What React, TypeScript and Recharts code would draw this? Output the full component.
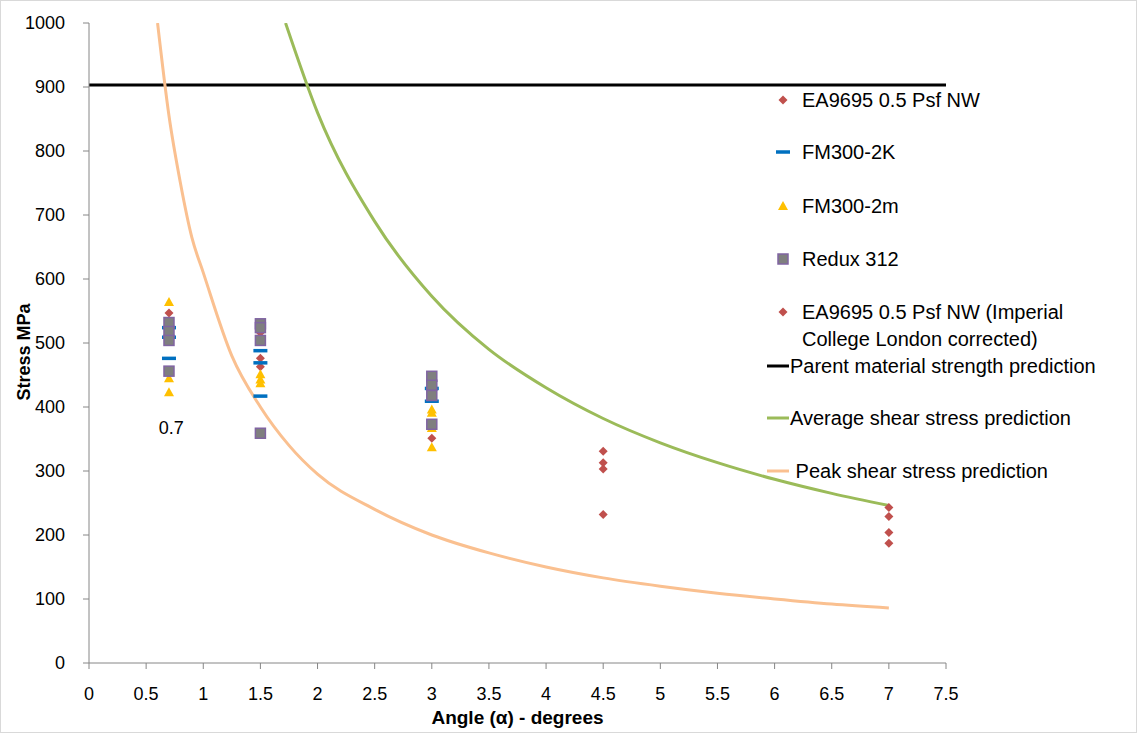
import {
  ComposedChart,
  Line,
  Scatter,
  XAxis,
  YAxis,
  ReferenceDot,
} from 'recharts';

const xTicks = [0, 0.5, 1, 1.5, 2, 2.5, 3, 3.5, 4, 4.5, 5, 5.5, 6, 6.5, 7, 7.5];
const yTicks = [0, 100, 200, 300, 400, 500, 600, 700, 800, 900, 1000];

// scatter series
const ea9695 = [
  { x: 0.7, y: 547 },
  { x: 0.7, y: 530 },
  { x: 1.5, y: 516 },
  { x: 1.5, y: 476 },
  { x: 1.5, y: 463 },
  { x: 3, y: 351 },
];
const fm300_2k = [
  { x: 0.7, y: 524 },
  { x: 0.7, y: 509 },
  { x: 0.7, y: 476 },
  { x: 1.5, y: 488 },
  { x: 1.5, y: 469 },
  { x: 1.5, y: 417 },
  { x: 3, y: 429 },
  { x: 3, y: 409 },
];
const fm300_2m = [
  { x: 0.7, y: 564 },
  { x: 0.7, y: 445 },
  { x: 0.7, y: 423 },
  { x: 1.5, y: 451 },
  { x: 1.5, y: 443 },
  { x: 1.5, y: 437 },
  { x: 3, y: 396 },
  { x: 3, y: 391 },
  { x: 3, y: 367 },
  { x: 3, y: 337 },
];
const redux312 = [
  { x: 0.7, y: 532 },
  { x: 0.7, y: 518 },
  { x: 0.7, y: 504 },
  { x: 0.7, y: 456 },
  { x: 1.5, y: 530 },
  { x: 1.5, y: 524 },
  { x: 1.5, y: 504 },
  { x: 1.5, y: 359 },
  { x: 3, y: 448 },
  { x: 3, y: 434 },
  { x: 3, y: 418 },
  { x: 3, y: 373 },
];
const ea9695Imperial = [
  { x: 4.5, y: 331 },
  { x: 4.5, y: 313 },
  { x: 4.5, y: 303 },
  { x: 4.5, y: 232 },
  { x: 7, y: 243 },
  { x: 7, y: 229 },
  { x: 7, y: 204 },
  { x: 7, y: 187 },
];

// prediction lines
const parentStrength = [
  { x: 0, y: 903 },
  { x: 7.5, y: 903 },
];
const avgShear = [
  { x: 1.72, y: 1000 },
  { x: 2, y: 860 },
  { x: 2.5, y: 690 },
  { x: 3, y: 573 },
  { x: 3.5, y: 490 },
  { x: 4, y: 430 },
  { x: 4.5, y: 382 },
  { x: 5, y: 344 },
  { x: 5.5, y: 313 },
  { x: 6, y: 287 },
  { x: 6.5, y: 265 },
  { x: 7, y: 246 },
];
const peakShear = [
  { x: 0.6, y: 1000 },
  { x: 0.7, y: 855 },
  { x: 0.8, y: 750 },
  { x: 0.9, y: 665 },
  { x: 1, y: 610 },
  { x: 1.25, y: 480 },
  { x: 1.5, y: 400 },
  { x: 1.75, y: 340 },
  { x: 2, y: 295 },
  { x: 2.5, y: 240 },
  { x: 3, y: 200 },
  { x: 3.5, y: 172 },
  { x: 4, y: 150 },
  { x: 4.5, y: 133 },
  { x: 5, y: 120 },
  { x: 5.5, y: 109 },
  { x: 6, y: 100 },
  { x: 6.5, y: 92 },
  { x: 7, y: 86 },
];

const FONT = '"Liberation Sans", Arial, sans-serif';
const RED = '#C0504D';
const BLUE = '#0070C0';
const YELLOW = '#FFC000';
const GREY = '#7F7F7F';
const PURPLE = '#8064A2';

const Diamond = ({ cx, cy }: any) => (
  <polygon
    points={`${cx},${cy - 4.5} ${cx + 4.5},${cy} ${cx},${cy + 4.5} ${cx - 4.5},${cy}`}
    fill={RED}
  />
);
const Dash = ({ cx, cy }: any) => (
  <rect x={cx - 7} y={cy - 1.75} width={14} height={3.5} fill={BLUE} />
);
const Triangle = ({ cx, cy }: any) => (
  <polygon
    points={`${cx},${cy - 5} ${cx + 5},${cy + 4} ${cx - 5},${cy + 4}`}
    fill={YELLOW}
  />
);
const Square = ({ cx, cy }: any) => (
  <rect
    x={cx - 5}
    y={cy - 5}
    width={10}
    height={10}
    fill={GREY}
    stroke={PURPLE}
    strokeWidth={1.5}
  />
);

const legendItems = [
  { label: ['EA9695 0.5 Psf NW'], kind: 'diamond', top: 99 },
  { label: ['FM300-2K'], kind: 'dash', top: 151 },
  { label: ['FM300-2m'], kind: 'triangle', top: 205 },
  { label: ['Redux 312'], kind: 'square', top: 258 },
  {
    label: ['EA9695 0.5 Psf NW (Imperial', 'College London corrected)'],
    kind: 'diamond',
    top: 311,
  },
  { label: ['Parent material strength prediction'], kind: 'line', color: '#000000', top: 365 },
  { label: ['Average shear stress prediction'], kind: 'line', color: '#9BBB59', top: 417 },
  { label: [' Peak shear stress prediction'], kind: 'line', color: '#FAC090', top: 470 },
];

function LegendMarker({ kind, color }: { kind: string; color?: string }) {
  return (
    <svg width={34} height={14} style={{ position: 'absolute', left: 0, top: -7 }}>
      {kind === 'diamond' && <Diamond cx={16} cy={7} />}
      {kind === 'dash' && <Dash cx={16} cy={7} />}
      {kind === 'triangle' && <Triangle cx={16} cy={7} />}
      {kind === 'square' && <Square cx={16} cy={7} />}
      {kind === 'line' && (
        <line x1={0} y1={7} x2={22} y2={7} stroke={color} strokeWidth={3} />
      )}
    </svg>
  );
}

function ChartLegend() {
  return (
    <div
      style={{
        position: 'absolute',
        left: 766,
        top: 0,
        width: 368,
        height: 520,
        fontFamily: FONT,
      }}
    >
      {legendItems.map((item) => (
        <div key={item.label.join(' ')} style={{ position: 'absolute', left: 0, top: item.top }}>
          <LegendMarker kind={item.kind} color={item.color} />
          {item.label.map((line, i) => (
            <div
              key={line}
              style={{
                position: 'absolute',
                left: item.kind === 'line' ? 23 : 35,
                top: i * 27 - 12,
                whiteSpace: 'pre',
                fontSize: 20,
                lineHeight: '24px',
                color: '#000',
              }}
            >
              {line}
            </div>
          ))}
        </div>
      ))}
    </div>
  );
}

export default function App() {
  return (
    <div
      style={{
        position: 'absolute',
        left: 0,
        top: 0,
        width: 1135,
        height: 731,
        border: '1px solid #d9d9d9',
        background: '#fff',
      }}
    >
      <ComposedChart
        width={1135}
        height={731}
        margin={{ top: 22, right: 190, left: 28, bottom: 10 }}
        style={{ fontFamily: FONT }}
      >
        <XAxis
          type="number"
          dataKey="x"
          domain={[0, 7.5]}
          ticks={xTicks}
          interval={0}
          allowDataOverflow
          stroke="#868686"
          tickSize={6}
          tickMargin={18}
          height={59}
          tick={{ fill: '#000', fontSize: 18 }}
          label={{
            value: 'Angle (α)  - degrees',
            position: 'insideBottom',
            offset: -2,
            style: { fontWeight: 'bold', fontSize: 19, fill: '#000', whiteSpace: 'pre' },
          }}
        />
        <YAxis
          type="number"
          dataKey="y"
          domain={[0, 1000]}
          ticks={yTicks}
          interval={0}
          allowDataOverflow
          stroke="#868686"
          tickSize={6}
          tickMargin={18}
          width={60}
          tick={{ fill: '#000', fontSize: 18 }}
          label={{
            value: 'Stress MPa',
            angle: -90,
            position: 'insideLeft',
            offset: -5,
            dy: 9,
            style: { fontWeight: 'bold', fontSize: 18, fill: '#000', textAnchor: 'middle' },
          }}
        />
        <Line
          data={parentStrength}
          dataKey="y"
          stroke="#000000"
          strokeWidth={3}
          dot={false}
          isAnimationActive={false}
        />
        <Line
          data={avgShear}
          dataKey="y"
          type="monotone"
          stroke="#9BBB59"
          strokeWidth={3}
          dot={false}
          isAnimationActive={false}
        />
        <Line
          data={peakShear}
          dataKey="y"
          type="monotone"
          stroke="#FAC090"
          strokeWidth={3}
          dot={false}
          isAnimationActive={false}
        />
        <Scatter data={ea9695} dataKey="y" shape={Diamond} isAnimationActive={false} />
        <Scatter data={fm300_2k} dataKey="y" shape={Dash} isAnimationActive={false} />
        <Scatter data={fm300_2m} dataKey="y" shape={Triangle} isAnimationActive={false} />
        <Scatter data={redux312} dataKey="y" shape={Square} isAnimationActive={false} />
        <Scatter data={ea9695Imperial} dataKey="y" shape={Diamond} isAnimationActive={false} />
        <ReferenceDot
          x={0.72}
          y={368}
          r={0}
          label={{ value: '0.7', position: 'center', fontSize: 18, fill: '#000' }}
        />
      </ComposedChart>
      <ChartLegend />
    </div>
  );
}
